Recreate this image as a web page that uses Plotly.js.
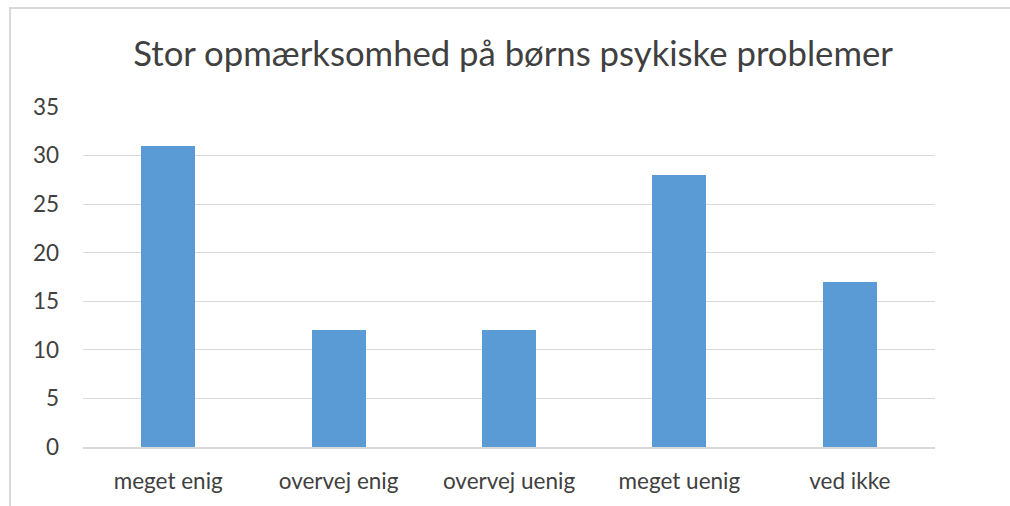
<!DOCTYPE html>
<html><head><meta charset="utf-8">
<script src="https://cdn.plot.ly/plotly-3.0.1.min.js"></script>
<style>body{margin:0;background:#fff}#c{width:1010px;height:506px}</style>
</head><body><div id="c"></div>
<script>
const categories = ["meget enig", "overvej enig", "overvej uenig", "meget uenig", "ved ikke"];
const values = [31, 12, 12, 28, 17];
const titleText = "Stor opmærksomhed på børns psykiske problemer";

const font = "Lato, 'Open Sans', 'Liberation Sans', sans-serif";
Plotly.newPlot("c", [{
  type: "bar", x: categories, y: values, width: 0.317,
  marker: {color: "#5B9BD5"}, hoverinfo: "none"
}], {
  width: 1010, height: 506,
  margin: {l: 83, r: 75, t: 107, b: 59},
  paper_bgcolor: "#fff", plot_bgcolor: "#fff",
  title: {text: titleText, font: {family: font, size: 34.7, color: "#404040"},
          x: 0.508, xanchor: "center", y: 0.893, yanchor: "middle", yref: "container"},
  xaxis: {tickfont: {family: font, size: 22.5, color: "#404040"}, showline: true,
          linecolor: "#d9d9d9", linewidth: 2, ticks: "", showgrid: false, fixedrange: true,
          ticklabelstandoff: 13},
  yaxis: {range: [0, 35], dtick: 5, tickfont: {family: font, size: 22.5, color: "#404040"},
          gridcolor: "#d9d9d9", gridwidth: 1, zeroline: false, ticks: "", ticklen: 0,
          showline: false, fixedrange: true, ticklabelstandoff: 23},
  shapes: [{type: "rect", xref: "paper", yref: "paper",
            x0: -0.0857, x1: 1.09, y0: -0.2, y1: 1.291,
            line: {color: "#d9d9d9", width: 2}, fillcolor: "rgba(0,0,0,0)", layer: "below"}],
  showlegend: false, bargap: 0
}, {displayModeBar: false, staticPlot: true});
</script></body></html>
